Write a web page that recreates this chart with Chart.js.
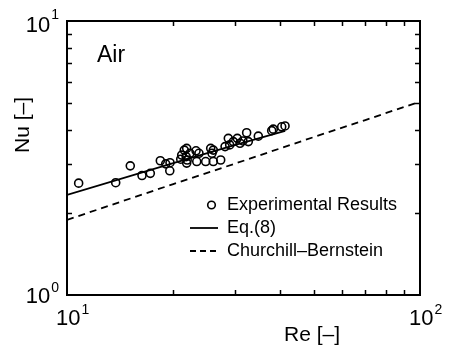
<!DOCTYPE html>
<html><head><meta charset="utf-8">
<script src="https://cdn.jsdelivr.net/npm/chart.js@4"></script>
<style>html,body{margin:0;padding:0;background:#fff;overflow:hidden}canvas{display:block}</style>
</head><body>
<canvas id="c" width="449" height="345"></canvas>
<script>
// Experimental results (Re, Nu)
const reExp = [10.79,13.74,15.11,16.31,17.22,18.38,19.04,19.58,19.55,21.13,21.49,21.83,21.75,21.83,21.9,22.3,23.2,23.65,23.31,24.71,25.97,27.25,25.53,25.75,25.97,28.04,28.64,29.59,30.37,30.91,32.28,32.63,34.83,38.01,38.4,40.57,41.46,31.5,21.0,28.9];
const nuExp = [2.56,2.57,2.96,2.73,2.78,3.09,3.01,3.04,2.84,3.24,3.38,3.43,3.20,3.03,3.11,3.29,3.36,3.29,3.07,3.07,3.07,3.11,3.43,3.29,3.38,3.48,3.73,3.63,3.73,3.58,3.91,3.63,3.80,3.98,4.03,4.11,4.14,3.65,3.13,3.53];
// Eq.(8)
const reEq8 = [10, 20, 30, 41.5];
const nuEq8 = [2.32, 3.03, 3.53, 3.97];
// Churchill-Bernstein
const reCB = [10, 20, 30, 50, 70, 100];
const nuCB = [1.88, 2.54, 3.02, 3.77, 4.35, 5.08];
// axis ticks
const xMajor = [10, 100];
const xMajorExp = ['1', '2'];
const yMajor = [1, 10];
const yMajorExp = ['0', '1'];
const xMinor = [20, 30, 40, 50, 60, 70, 80, 90];
const yMinor = [2, 3, 4, 5, 6, 7, 8, 9];
const labels = {
  series: ['Experimental Results', 'Eq.(8)', 'Churchill\u2013Bernstein'],
  xTitle: 'Re [\u2013]',
  yTitle: 'Nu [\u2013]',
  note: 'Air'
};

const FONT = '"Liberation Sans", Arial, sans-serif';
const toXY = (xs, ys) => xs.map((x, i) => ({x: x, y: ys[i]}));

const deco = {
  id: 'deco',
  afterDraw(chart) {
    const ctx = chart.ctx, a = chart.chartArea;
    const xs = chart.scales.x, ys = chart.scales.y;
    ctx.save();
    ctx.strokeStyle = '#000';
    ctx.fillStyle = '#000';
    // frame
    ctx.lineWidth = 2;
    ctx.strokeRect(a.left, a.top, a.right - a.left, a.bottom - a.top);
    // inner ticks
    ctx.lineWidth = 1.5;
    const tl = 5;
    ctx.beginPath();
    xMinor.forEach(v => {
      const px = Math.round(xs.getPixelForValue(v)) + 0.5;
      ctx.moveTo(px, a.bottom); ctx.lineTo(px, a.bottom - tl);
      ctx.moveTo(px, a.top); ctx.lineTo(px, a.top + tl);
    });
    yMinor.forEach(v => {
      const py = Math.round(ys.getPixelForValue(v)) + 0.5;
      ctx.moveTo(a.left, py); ctx.lineTo(a.left + tl, py);
      ctx.moveTo(a.right, py); ctx.lineTo(a.right - tl, py);
    });
    ctx.stroke();
    // tick labels
    ctx.textBaseline = 'alphabetic';
    xMajor.forEach((v, i) => {
      const px = xs.getPixelForValue(v);
      ctx.font = '22px ' + FONT;
      ctx.textAlign = 'left';
      const x0 = px - 11;
      ctx.fillText('10', x0, 325);
      const w = ctx.measureText('10').width;
      ctx.font = '14px ' + FONT;
      ctx.fillText(xMajorExp[i], x0 + w + 1, 314);
    });
    yMajor.forEach((v, i) => {
      const py = ys.getPixelForValue(v);
      ctx.font = '14px ' + FONT;
      ctx.textAlign = 'right';
      const sw = ctx.measureText(yMajorExp[i]).width;
      const xr = a.left - 8;
      ctx.fillText(yMajorExp[i], xr, py - 3 + (i === 0 ? 0 : 1));
      ctx.font = '22px ' + FONT;
      ctx.fillText('10', xr - sw - 1, py + (i === 0 ? 8 : 11));
    });
    // axis titles
    ctx.font = '21px ' + FONT;
    ctx.textAlign = 'center';
    ctx.textBaseline = 'middle';
    ctx.fillText(labels.xTitle, 312, 335);
    ctx.save();
    ctx.translate(23, 125);
    ctx.rotate(-Math.PI / 2);
    ctx.fillText(labels.yTitle, 0, 0);
    ctx.restore();
    // note
    ctx.font = '23px ' + FONT;
    ctx.textAlign = 'left';
    ctx.fillText(labels.note, 97, 56);
    // legend
    const lx = 227, rows = [205, 228, 251];
    ctx.font = '18px ' + FONT;
    ctx.textBaseline = 'middle';
    ctx.lineWidth = 1.6;
    ctx.beginPath(); ctx.arc(211.5, rows[0], 3.8, 0, Math.PI * 2); ctx.stroke();
    ctx.fillText(labels.series[0], lx, rows[0]);
    ctx.lineWidth = 1.8;
    ctx.beginPath(); ctx.moveTo(190, rows[1]); ctx.lineTo(218, rows[1]); ctx.stroke();
    ctx.fillText(labels.series[1], lx, rows[1]);
    ctx.setLineDash([6, 4]);
    ctx.beginPath(); ctx.moveTo(190, rows[2]); ctx.lineTo(218, rows[2]); ctx.stroke();
    ctx.setLineDash([]);
    ctx.fillText(labels.series[2], lx, rows[2]);
    ctx.restore();
  }
};

new Chart(document.getElementById('c'), {
  type: 'scatter',
  data: {
    datasets: [
      {
        label: labels.series[0],
        data: toXY(reExp, nuExp),
        pointStyle: 'circle',
        pointRadius: 4,
        pointBorderWidth: 1.6,
        pointBorderColor: '#000',
        pointBackgroundColor: 'rgba(0,0,0,0)',
        showLine: false
      },
      {
        label: labels.series[1],
        data: toXY(reEq8, nuEq8),
        showLine: true,
        borderColor: '#000',
        borderWidth: 1.8,
        pointRadius: 0,
        fill: false
      },
      {
        label: labels.series[2],
        data: toXY(reCB, nuCB),
        showLine: true,
        borderColor: '#000',
        borderWidth: 1.8,
        borderDash: [7, 5],
        pointRadius: 0,
        fill: false
      }
    ]
  },
  options: {
    responsive: false,
    animation: false,
    devicePixelRatio: 1,
    layout: { padding: { left: 67, top: 21, right: 29, bottom: 50 } },
    plugins: { legend: { display: false }, tooltip: { enabled: false } },
    scales: {
      x: { type: 'logarithmic', min: 10, max: 100, display: false },
      y: { type: 'logarithmic', min: 1, max: 10, display: false }
    }
  },
  plugins: [deco]
});
</script>
</body></html>
